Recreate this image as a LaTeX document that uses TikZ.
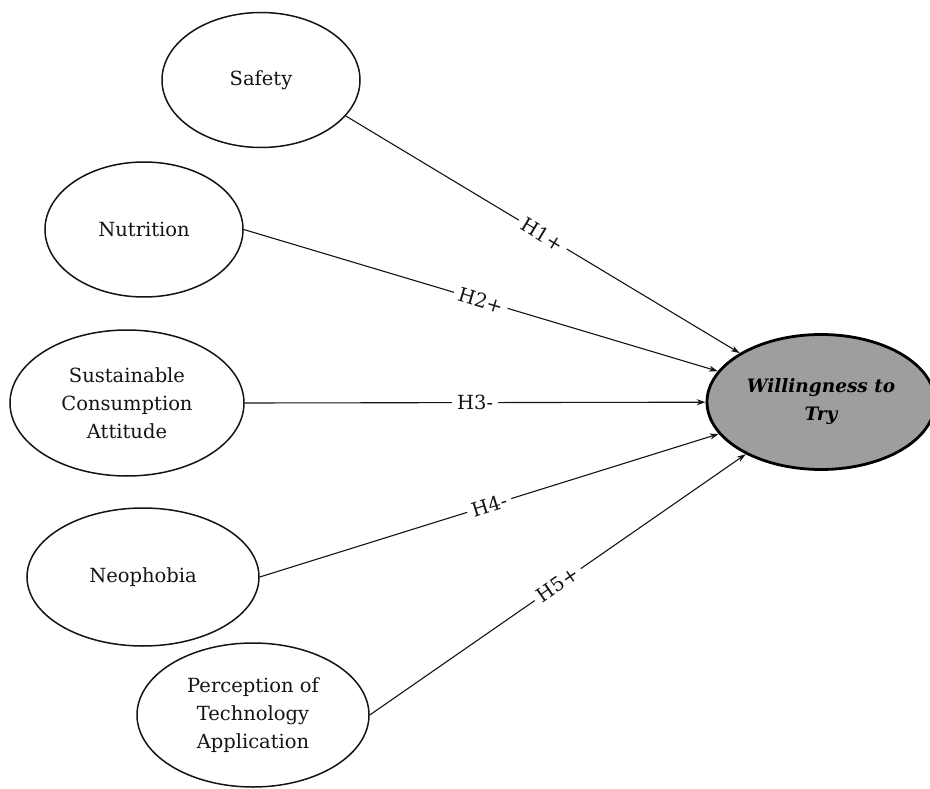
\documentclass[tikz,border=0pt]{standalone}
\usepackage{fontspec}
\setmainfont{DejaVu Serif}
\usetikzlibrary{shapes.geometric,arrows.meta}
\definecolor{inkc}{RGB}{20,20,20}
\definecolor{wfill}{RGB}{158,158,158}
\begin{document}
\begin{tikzpicture}[x=1pt,y=-1pt,
  construct/.style={ellipse,draw=inkc,line width=1.5pt,inner sep=0pt,align=center,
    text=inkc,font=\fontsize{19.5}{28}\selectfont},
  outcome/.style={ellipse,draw=black,line width=2.8pt,fill=wfill,inner sep=0pt,align=center,
    text=black,font=\fontsize{18.5}{28}\selectfont\bfseries\itshape},
  path/.style={draw=inkc,line width=1.1pt,-{Stealth[length=9pt,width=6pt]}},
  hyp/.style={pos=0.5,sloped,fill=white,inner xsep=5pt,inner ysep=1pt,text=inkc,
    font=\fontsize{19.5}{22}\selectfont}]
\useasboundingbox[fill=white] (0,0) rectangle (930,789);
\begin{scope}
\clip (0,0) rectangle (930,789);
\node[construct,minimum width=198pt,minimum height=135pt] (s) at (261,80) {Safety};
\node[construct,minimum width=198pt,minimum height=135pt] (n) at (144,229.5) {Nutrition};
\node[construct,minimum width=234pt,minimum height=146pt] (sc) at (127,403) {Sustainable\\Consumption\\Attitude};
\node[construct,minimum width=232pt,minimum height=138pt] (ne) at (143,577) {Neophobia};
\node[construct,minimum width=232pt,minimum height=144pt] (p) at (253,715) {Perception of\\Technology\\Application};
\node[outcome,minimum width=228pt,minimum height=135pt] (w) at (821,402) {Willingness to\\Try};
\end{scope}
\draw[path] (s.-23) -- node[hyp] {H1+} (w);
\draw[path] (n.east) -- node[hyp] {H2+} (w);
\draw[path] (sc.east) -- node[hyp] {H3-} (w);
\draw[path] (ne.east) -- node[hyp] {H4-} (w);
\draw[path] (p.east) -- node[hyp] {H5+} (w);
\end{tikzpicture}
\end{document}
